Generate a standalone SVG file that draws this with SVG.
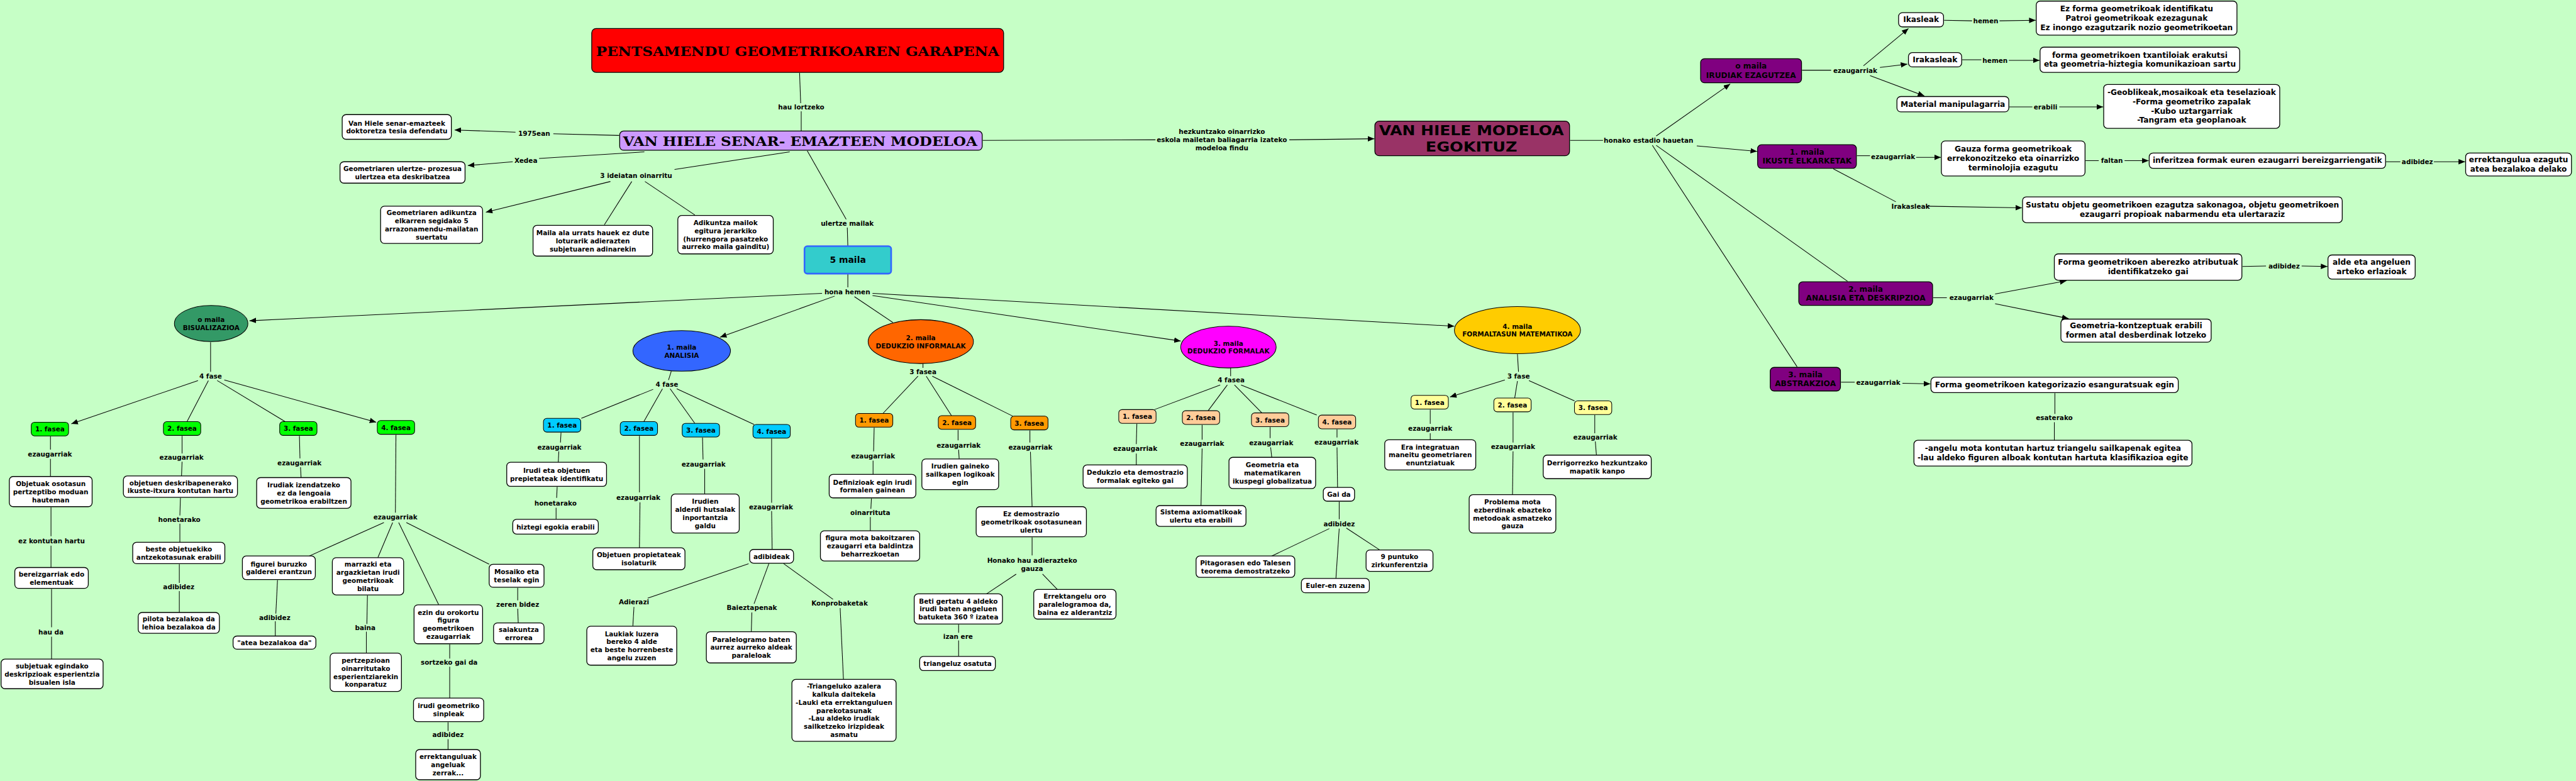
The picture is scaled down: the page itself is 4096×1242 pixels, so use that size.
<svg xmlns="http://www.w3.org/2000/svg" width="4096" height="1242" viewBox="0 0 4096 1242">
<defs>
<style>
.c line{stroke:#000;stroke-width:1.2;fill:none}
.c line.a{marker-end:url(#ah)}
text,tspan{font-family:"DejaVu Sans",Verdana,sans-serif;font-weight:bold;fill:#000;text-anchor:middle;dominant-baseline:central}
.s12{font-size:12px}
.s14{font-size:14px}
.s16{font-size:16px}
.ttl{font-family:"DejaVu Serif","Liberation Serif",serif;font-size:24px;font-weight:bold}
.box{fill:#fff;stroke:#000;stroke-width:1.5}
.pur{fill:#800080;stroke:#000;stroke-width:1.5}
.gr{fill:#00ff00;stroke:#000;stroke-width:1.2}
.cy{fill:#00ccff;stroke:#000;stroke-width:1.2}
.or{fill:#ff9900;stroke:#000;stroke-width:1.2}
.pe{fill:#ffcc99;stroke:#000;stroke-width:1.2}
.ye{fill:#ffff99;stroke:#000;stroke-width:1.2}
.el{stroke:#000;stroke-width:1.2}
</style>
<marker id="ah" markerUnits="userSpaceOnUse" markerWidth="12" markerHeight="10" refX="12" refY="5" orient="auto">
<path d="M0,0 L12,5 L0,10 z" fill="#000"/>
</marker>
</defs>
<rect width="4096" height="1242" fill="#c6ffc6"/>
<g transform="scale(0.872)">
<g id="connectors" class="c">
<line x1="1129" y1="247" x2="1009" y2="244"/><line class="a" x1="940" y1="241" x2="829" y2="237"/>
<line x1="1175" y1="277" x2="983" y2="289"/><line class="a" x1="935" y1="295" x2="853" y2="302"/>
<line x1="1440" y1="277" x2="1230" y2="309"/>
<line class="a" x1="1113" y1="331" x2="886" y2="387"/><line x1="1152" y1="331" x2="1102" y2="410"/><line x1="1176" y1="331" x2="1267" y2="392"/>
<line x1="1458" y1="133" x2="1460" y2="188"/><line x1="1461" y1="203" x2="1461" y2="239"/>
<line x1="1472" y1="275" x2="1543" y2="400"/><line x1="1545" y1="415" x2="1546" y2="449"/>
<line x1="1792" y1="256" x2="2107" y2="255"/><line class="a" x1="2351" y1="255" x2="2506" y2="253"/>
<line x1="2863" y1="256" x2="2923" y2="256"/>
<line class="a" x1="3020" y1="248" x2="3155" y2="153"/><line class="a" x1="3094" y1="266" x2="3204" y2="276"/>
<line x1="3013" y1="265" x2="3277" y2="669"/><line x1="3020" y1="265" x2="3369" y2="513"/>
<line x1="3286" y1="128" x2="3339" y2="128"/>
<line class="a" x1="3398" y1="120" x2="3480" y2="52"/><line class="a" x1="3428" y1="123" x2="3478" y2="117"/><line class="a" x1="3410" y1="138" x2="3509" y2="175"/>
<line x1="3545" y1="37" x2="3596" y2="38"/><line class="a" x1="3646" y1="38" x2="3712" y2="37"/>
<line x1="3578" y1="109" x2="3613" y2="109"/><line class="a" x1="3663" y1="110" x2="3719" y2="110"/>
<line x1="3664" y1="195" x2="3706" y2="195"/><line class="a" x1="3755" y1="195" x2="3835" y2="195"/>
<line x1="3386" y1="284" x2="3410" y2="284"/><line class="a" x1="3494" y1="287" x2="3539" y2="287"/>
<line x1="3803" y1="293" x2="3827" y2="293"/><line class="a" x1="3874" y1="293" x2="3918" y2="293"/>
<line x1="4351" y1="295" x2="4377" y2="295"/><line class="a" x1="4438" y1="295" x2="4495" y2="295"/>
<line x1="3343" y1="308" x2="3457" y2="368"/><line class="a" x1="3512" y1="376" x2="3687" y2="379"/>
<line x1="3525" y1="543" x2="3550" y2="543"/>
<line class="a" x1="3638" y1="536" x2="3768" y2="512"/><line class="a" x1="3638" y1="554" x2="3772" y2="581"/>
<line x1="4089" y1="486" x2="4132" y2="485"/><line class="a" x1="4197" y1="485" x2="4244" y2="486"/>
<line x1="3357" y1="697" x2="3382" y2="697"/><line class="a" x1="3469" y1="699" x2="3520" y2="700"/>
<line x1="3747" y1="717" x2="3747" y2="755"/><line x1="3746" y1="770" x2="3746" y2="803"/>
<line x1="1546" y1="500" x2="1546" y2="524"/>
<line class="a" x1="1499" y1="535" x2="455" y2="585"/>
<line class="a" x1="1522" y1="540" x2="1313" y2="615"/>
<line x1="1558" y1="541" x2="1628" y2="588"/>
<line class="a" x1="1591" y1="539" x2="2153" y2="622"/>
<line class="a" x1="1591" y1="535" x2="2652" y2="595"/>
<line x1="384" y1="624" x2="384" y2="678"/>
<line class="a" x1="361" y1="694" x2="130" y2="773"/><line x1="380" y1="694" x2="341" y2="769"/><line x1="396" y1="694" x2="520" y2="769"/><line class="a" x1="409" y1="693" x2="686" y2="770"/>
<line x1="92" y1="796" x2="92" y2="820"/><line x1="92" y1="837" x2="92" y2="869"/>
<line x1="93" y1="925" x2="93" y2="978"/><line x1="93" y1="995" x2="93" y2="1035"/>
<line x1="94" y1="1074" x2="94" y2="1144"/><line x1="94" y1="1161" x2="94" y2="1202"/>
<line x1="332" y1="795" x2="332" y2="827"/><line x1="332" y1="842" x2="331" y2="868"/>
<line x1="329" y1="908" x2="328" y2="940"/><line x1="328" y1="955" x2="328" y2="989"/>
<line x1="327" y1="1029" x2="327" y2="1063"/><line x1="327" y1="1078" x2="327" y2="1117"/>
<line x1="546" y1="795" x2="547" y2="836"/><line x1="548" y1="852" x2="549" y2="871"/>
<line x1="722" y1="793" x2="721" y2="935"/>
<line x1="700" y1="953" x2="564" y2="1014"/><line x1="716" y1="953" x2="689" y2="1017"/><line x1="727" y1="953" x2="800" y2="1103"/><line x1="741" y1="953" x2="892" y2="1029"/>
<line x1="506" y1="1058" x2="503" y2="1119"/><line x1="502" y1="1133" x2="502" y2="1160"/>
<line x1="670" y1="1086" x2="669" y2="1138"/><line x1="668" y1="1152" x2="668" y2="1191"/>
<line x1="820" y1="1175" x2="820" y2="1201"/><line x1="820" y1="1216" x2="820" y2="1273"/>
<line x1="817" y1="1317" x2="817" y2="1333"/><line x1="817" y1="1348" x2="817" y2="1367"/>
<line x1="944" y1="1072" x2="944" y2="1095"/><line x1="944" y1="1110" x2="945" y2="1136"/>
<line x1="1224" y1="677" x2="1219" y2="693"/>
<line x1="1191" y1="710" x2="1060" y2="763"/><line x1="1208" y1="709" x2="1174" y2="769"/><line x1="1222" y1="709" x2="1267" y2="772"/><line x1="1234" y1="709" x2="1375" y2="774"/>
<line x1="1023" y1="789" x2="1022" y2="807"/><line x1="1019" y1="823" x2="1018" y2="843"/>
<line x1="1016" y1="888" x2="1015" y2="908"/><line x1="1014" y1="926" x2="1014" y2="947"/>
<line x1="1166" y1="795" x2="1166" y2="898"/><line x1="1167" y1="916" x2="1166" y2="999"/>
<line x1="1281" y1="798" x2="1282" y2="838"/><line x1="1285" y1="855" x2="1285" y2="901"/>
<line x1="1407" y1="800" x2="1407" y2="917"/><line x1="1407" y1="932" x2="1408" y2="1002"/>
<line x1="1365" y1="1028" x2="1181" y2="1091"/><line x1="1402" y1="1028" x2="1375" y2="1101"/><line x1="1429" y1="1028" x2="1519" y2="1093"/>
<line x1="1156" y1="1107" x2="1154" y2="1142"/>
<line x1="1371" y1="1117" x2="1370" y2="1152"/>
<line x1="1532" y1="1109" x2="1538" y2="1239"/>
<line x1="1683" y1="663" x2="1683" y2="671"/>
<line x1="1674" y1="686" x2="1610" y2="754"/><line x1="1689" y1="686" x2="1735" y2="758"/><line x1="1700" y1="686" x2="1847" y2="759"/>
<line x1="1594" y1="780" x2="1593" y2="823"/><line x1="1592" y1="840" x2="1592" y2="865"/>
<line x1="1589" y1="909" x2="1588" y2="928"/><line x1="1587" y1="943" x2="1587" y2="968"/>
<line x1="1747" y1="784" x2="1747" y2="803"/><line x1="1748" y1="820" x2="1749" y2="837"/>
<line x1="1878" y1="785" x2="1878" y2="807"/><line x1="1879" y1="824" x2="1882" y2="924"/>
<line x1="1882" y1="980" x2="1882" y2="1013"/>
<line x1="1853" y1="1047" x2="1799" y2="1083"/><line x1="1901" y1="1047" x2="1928" y2="1075"/>
<line x1="1748" y1="1139" x2="1748" y2="1154"/><line x1="1748" y1="1168" x2="1748" y2="1197"/>
<line x1="2244" y1="671" x2="2244" y2="686"/>
<line x1="2225" y1="702" x2="2105" y2="747"/><line x1="2238" y1="702" x2="2203" y2="749"/><line x1="2251" y1="702" x2="2301" y2="753"/><line x1="2263" y1="702" x2="2401" y2="757"/>
<line x1="2073" y1="773" x2="2072" y2="810"/><line x1="2072" y1="827" x2="2072" y2="848"/>
<line x1="2192" y1="775" x2="2192" y2="802"/><line x1="2192" y1="818" x2="2190" y2="922"/>
<line x1="2316" y1="779" x2="2316" y2="799"/><line x1="2317" y1="816" x2="2319" y2="834"/>
<line x1="2438" y1="783" x2="2438" y2="798"/><line x1="2438" y1="816" x2="2439" y2="889"/>
<line x1="2442" y1="915" x2="2442" y2="947"/>
<line x1="2424" y1="964" x2="2319" y2="1014"/><line x1="2442" y1="964" x2="2436" y2="1055"/><line x1="2455" y1="963" x2="2516" y2="1003"/>
<line x1="2767" y1="646" x2="2769" y2="678"/>
<line class="a" x1="2744" y1="693" x2="2644" y2="724"/><line x1="2767" y1="695" x2="2762" y2="726"/><line x1="2788" y1="694" x2="2871" y2="731"/>
<line x1="2608" y1="747" x2="2608" y2="773"/><line x1="2608" y1="790" x2="2608" y2="802"/>
<line x1="2759" y1="752" x2="2759" y2="807"/><line x1="2759" y1="823" x2="2758" y2="902"/>
<line x1="2908" y1="757" x2="2908" y2="790"/><line x1="2909" y1="805" x2="2911" y2="830"/>
<g id="labels" class="s12">
<text x="974" y="243">1975ean</text>
<text x="959" y="292">Xedea</text>
<text x="1160" y="320">3 ideiatan oinarritu</text>
<text x="1461" y="195">hau lortzeko</text>
<text x="1545" y="407">ulertze mailak</text>
<text x="2228" y="240"><tspan x="2228" y="240">hezkuntzako oinarrizko</tspan><tspan x="2228" y="255">eskola mailetan baliagarria izateko</tspan><tspan x="2228" y="269.5">modeloa findu</tspan></text>
<text x="3006" y="256">honako estadio hauetan</text>
<text x="3383" y="128">ezaugarriak</text>
<text x="3621" y="38">hemen</text>
<text x="3638" y="110">hemen</text>
<text x="3730" y="195">erabili</text>
<text x="3452" y="285">ezaugarriak</text>
<text x="3851" y="293">faltan</text>
<text x="4408" y="295">adibidez</text>
<text x="3484" y="376">Irakasleak</text>
<text x="3595" y="543">ezaugarriak</text>
<text x="4165" y="485">adibidez</text>
<text x="3425" y="697">ezaugarriak</text>
<text x="3746" y="762">esaterako</text>
<text x="1545" y="532">hona hemen</text>
<text x="384" y="686">4 fase</text>
<text x="91" y="828">ezaugarriak</text>
<text x="331" y="834">ezaugarriak</text>
<text x="546" y="844">ezaugarriak</text>
<text x="721" y="943">ezaugarriak</text>
<text x="94" y="986">ez kontutan hartu</text>
<text x="93" y="1152">hau da</text>
<text x="327" y="947">honetarako</text>
<text x="326" y="1070">adibidez</text>
<text x="501" y="1126">adibidez</text>
<text x="666" y="1145">baina</text>
<text x="819" y="1208">sortzeko gai da</text>
<text x="817" y="1340">adibidez</text>
<text x="944" y="1102">zeren bidez</text>
<text x="1216" y="701">4 fase</text>
<text x="1020" y="815">ezaugarriak</text>
<text x="1013" y="917">honetarako</text>
<text x="1164" y="907">ezaugarriak</text>
<text x="1283" y="846">ezaugarriak</text>
<text x="1406" y="924">ezaugarriak</text>
<text x="1156" y="1098">Adierazi</text>
<text x="1371" y="1108">Baieztapenak</text>
<text x="1531" y="1100">Konprobaketak</text>
<text x="1683" y="678">3 fasea</text>
<text x="1592" y="831">ezaugarriak</text>
<text x="1748" y="812">ezaugarriak</text>
<text x="1879" y="815">ezaugarriak</text>
<text x="1587" y="935">oinarrituta</text>
<text x="1882" y="1022"><tspan x="1882" y="1022">Honako hau adierazteko</tspan><tspan x="1882" y="1037">gauza</tspan></text>
<text x="1747" y="1161">izan ere</text>
<text x="2245" y="693">4 fasea</text>
<text x="2070" y="818">ezaugarriak</text>
<text x="2192" y="809">ezaugarriak</text>
<text x="2318" y="807">ezaugarriak</text>
<text x="2437" y="806">ezaugarriak</text>
<text x="2442" y="955">adibidez</text>
<text x="2769" y="686">3 fase</text>
<text x="2608" y="781">ezaugarriak</text>
<text x="2759" y="814">ezaugarriak</text>
<text x="2909" y="797">ezaugarriak</text>
</g>
</g>
<g id="n-title"><rect x="1079" y="52" width="751" height="80" rx="8" fill="#ff0000" stroke="#000" stroke-width="1.5"/><text class="ttl" x="1454.5" y="93" textLength="735" lengthAdjust="spacingAndGlyphs">PENTSAMENDU GEOMETRIKOAREN GARAPENA</text></g>
<g id="n-vanhiele"><rect x="1130" y="239" width="661" height="35" rx="7" fill="#cc99ff" stroke="#000" stroke-width="1.5"/><text class="ttl" x="1459" y="258" textLength="646" lengthAdjust="spacingAndGlyphs">VAN HIELE SENAR- EMAZTEEN MODELOA</text></g>
<g id="n-egokituz"><rect x="2507" y="221" width="355" height="63" rx="8" fill="#993366" stroke="#000" stroke-width="1.5"/><text class="ttl"><tspan x="2683" y="239" textLength="337" lengthAdjust="spacingAndGlyphs">VAN HIELE MODELOA</tspan><tspan x="2683" y="268" textLength="167" lengthAdjust="spacingAndGlyphs">EGOKITUZ</tspan></text></g>
<g id="n-tesia" class="s12"><rect class="box" x="624" y="209" width="199" height="45" rx="7"/><text><tspan x="723.5" y="224.2">Van Hiele senar-emazteek</tspan><tspan x="723.5" y="238.9">doktoretza tesia defendatu</tspan></text></g>
<g id="n-xedea" class="s12"><rect class="box" x="620" y="295" width="228" height="39" rx="7"/><text><tspan x="734" y="307.2">Geometriaren ulertze- prozesua</tspan><tspan x="734" y="321.9">ulertzea eta deskribatzea</tspan></text></g>
<g id="n-adikuntza" class="s12"><rect class="box" x="694" y="376" width="186" height="68" rx="7"/><text><tspan x="787" y="388">Geometriaren adikuntza</tspan><tspan x="787" y="402.7">elkarren segidako 5</tspan><tspan x="787" y="417.4">arrazonamendu-mailatan</tspan><tspan x="787" y="432.1">suertatu</tspan></text></g>
<g id="n-maila-ala" class="s12"><rect class="box" x="972" y="411" width="218" height="56" rx="7"/><text><tspan x="1081" y="424.3">Maila ala urrats hauek ez dute</tspan><tspan x="1081" y="439">loturarik adierazten</tspan><tspan x="1081" y="453.7">subjetuaren adinarekin</tspan></text></g>
<g id="n-mailok" class="s12"><rect class="box" x="1236" y="393" width="174" height="70" rx="7"/><text><tspan x="1323" y="406">Adikuntza mailok</tspan><tspan x="1323" y="420.7">egitura jerarkiko</tspan><tspan x="1323" y="435.4">(hurrengora pasatzeko</tspan><tspan x="1323" y="450.1">aurreko maila gainditu)</tspan></text></g>
<g id="n-5maila" class="s16"><rect x="1467" y="449" width="158" height="50" rx="5" fill="#33cccc" stroke="#3366ff" stroke-width="3"/><text x="1546" y="474">5 maila</text></g>
<g id="n-m0" class="s14"><rect class="pur" x="3101" y="107" width="184" height="44" rx="7"/><text><tspan x="3193" y="120.5">o maila</tspan><tspan x="3193" y="137.5">IRUDIAK EZAGUTZEA</tspan></text></g>
<g id="n-m1" class="s14"><rect class="pur" x="3205" y="264" width="180" height="43" rx="7"/><text><tspan x="3295" y="277">1. maila</tspan><tspan x="3295" y="294">IKUSTE ELKARKETAK</tspan></text></g>
<g id="n-m2" class="s14"><rect class="pur" x="3280" y="514" width="244" height="43" rx="7"/><text><tspan x="3402" y="527">2. maila</tspan><tspan x="3402" y="544">ANALISIA ETA DESKRIPZIOA</tspan></text></g>
<g id="n-m3" class="s14"><rect class="pur" x="3228" y="670" width="128" height="43" rx="7"/><text><tspan x="3292" y="683">3. maila</tspan><tspan x="3292" y="700">ABSTRAKZIOA</tspan></text></g>
<g id="n-ikasleak" class="s14"><rect class="box" x="3462" y="23" width="82" height="26" rx="7"/><text x="3503" y="36">Ikasleak</text></g>
<g id="n-irakasleak" class="s14"><rect class="box" x="3480" y="96" width="97" height="26" rx="7"/><text x="3528.5" y="109">Irakasleak</text></g>
<g id="n-material" class="s14"><rect class="box" x="3459" y="176" width="204" height="28" rx="7"/><text x="3561" y="190">Material manipulagarria</text></g>
<g id="n-ezforma" class="s14"><rect class="box" x="3713" y="2" width="366" height="62" rx="7"/><text><tspan x="3896" y="16">Ez forma geometrikoak identifikatu</tspan><tspan x="3896" y="33">Patroi geometrikoak ezezagunak</tspan><tspan x="3896" y="50">Ez inongo ezagutzarik nozio geometrikoetan</tspan></text></g>
<g id="n-txantiloi" class="s14"><rect class="box" x="3720" y="86" width="364" height="46" rx="7"/><text><tspan x="3902" y="100.5">forma geometrikoen txantiloiak erakutsi</tspan><tspan x="3902" y="117.5">eta geometria-hiztegia komunikazioan sartu</tspan></text></g>
<g id="n-geoblikeak" class="s14"><rect class="box" x="3836" y="154" width="321" height="80" rx="7"/><text><tspan x="3996.5" y="168.5">-Geoblikeak,mosaikoak eta teselazioak</tspan><tspan x="3996.5" y="185.5">-Forma geometriko zapalak</tspan><tspan x="3996.5" y="202.5">-Kubo uztargarriak</tspan><tspan x="3996.5" y="219.5">-Tangram eta geoplanoak</tspan></text></g>
<g id="n-gauza" class="s14"><rect class="box" x="3540" y="257" width="262" height="64" rx="7"/><text><tspan x="3671" y="272">Gauza forma geometrikoak</tspan><tspan x="3671" y="289">errekonozitzeko eta oinarrizko</tspan><tspan x="3671" y="306">terminolojia ezagutu</tspan></text></g>
<g id="n-inferitzea" class="s14"><rect class="box" x="3919" y="279" width="431" height="28" rx="7"/><text x="4134.5" y="293">inferitzea formak euren ezaugarri bereizgarriengatik</text></g>
<g id="n-errektangulua" class="s14"><rect class="box" x="4496" y="279" width="193" height="42" rx="7"/><text><tspan x="4592.5" y="291.5">errektangulua ezagutu</tspan><tspan x="4592.5" y="308.5">atea bezalakoa delako</tspan></text></g>
<g id="n-sustatu" class="s14"><rect class="box" x="3688" y="359" width="583" height="47" rx="7"/><text><tspan x="3979.5" y="374">Sustatu objetu geometrikoen ezagutza sakonagoa, objetu geometrikoen</tspan><tspan x="3979.5" y="391">ezaugarri propioak nabarmendu eta ulertaraziz</tspan></text></g>
<g id="n-aberezko" class="s14"><rect class="box" x="3746" y="463" width="342" height="48" rx="7"/><text><tspan x="3917" y="478.5">Forma geometrikoen aberezko atributuak</tspan><tspan x="3917" y="495.5">identifikatzeko gai</tspan></text></g>
<g id="n-alde" class="s14"><rect class="box" x="4245" y="465" width="159" height="44" rx="7"/><text><tspan x="4324.5" y="478.5">alde eta angeluen</tspan><tspan x="4324.5" y="495.5">arteko erlazioak</tspan></text></g>
<g id="n-kontzeptuak" class="s14"><rect class="box" x="3758" y="582" width="274" height="42" rx="7"/><text><tspan x="3895" y="594.5">Geometria-kontzeptuak erabili</tspan><tspan x="3895" y="611.5">formen atal desberdinak lotzeko</tspan></text></g>
<g id="n-kategorizazio" class="s14"><rect class="box" x="3521" y="688" width="451" height="28" rx="7"/><text x="3746.5" y="702">Forma geometrikoen kategorizazio esanguratsuak egin</text></g>
<g id="n-angelu" class="s14"><rect class="box" x="3490" y="803" width="507" height="47" rx="7"/><text><tspan x="3743.5" y="818">-angelu mota kontutan hartuz triangelu sailkapenak egitea</tspan><tspan x="3743.5" y="835">-lau aldeko figuren alboak kontutan hartuta klasifikazioa egite</tspan></text></g>
<g id="n-0maila" class="s12"><ellipse class="el" cx="385" cy="590" rx="67" ry="33" fill="#339966"/><text><tspan x="385" y="582.7">o maila</tspan><tspan x="385" y="597.4">BISUALIZAZIOA</tspan></text></g>
<g id="n-1maila" class="s12"><ellipse class="el" cx="1243" cy="640" rx="89" ry="37" fill="#3366ff"/><text><tspan x="1243" y="632.7">1. maila</tspan><tspan x="1243" y="647.4">ANALISIA</tspan></text></g>
<g id="n-2maila" class="s12"><ellipse class="el" cx="1679" cy="623" rx="96" ry="40" fill="#ff6600"/><text><tspan x="1679" y="615.7">2. maila</tspan><tspan x="1679" y="630.4">DEDUKZIO INFORMALAK</tspan></text></g>
<g id="n-3maila" class="s12"><ellipse class="el" cx="2240" cy="633" rx="87" ry="38" fill="#ff00ff"/><text><tspan x="2240" y="625.7">3. maila</tspan><tspan x="2240" y="640.4">DEDUKZIO FORMALAK</tspan></text></g>
<g id="n-4maila" class="s12"><ellipse class="el" cx="2767" cy="602" rx="115" ry="43" fill="#ffcc00"/><text><tspan x="2767" y="594.7">4. maila</tspan><tspan x="2767" y="609.4">FORMALTASUN MATEMATIKOA</tspan></text></g>
<g id="n-g1" class="s12"><rect class="gr" x="57" y="770" width="68" height="25" rx="6"/><text x="91" y="782.5">1. fasea</text></g>
<g id="n-g2" class="s12"><rect class="gr" x="298" y="769" width="68" height="25" rx="6"/><text x="332" y="781.5">2. fasea</text></g>
<g id="n-g3" class="s12"><rect class="gr" x="510" y="769" width="68" height="25" rx="6"/><text x="544" y="781.5">3. fasea</text></g>
<g id="n-g4" class="s12"><rect class="gr" x="688" y="767" width="68" height="25" rx="6"/><text x="722" y="779.5">4. fasea</text></g>
<g id="n-c1" class="s12"><rect class="cy" x="991" y="763" width="68" height="25" rx="6"/><text x="1025" y="775.5">1. fasea</text></g>
<g id="n-c2" class="s12"><rect class="cy" x="1131" y="769" width="68" height="25" rx="6"/><text x="1165" y="781.5">2. fasea</text></g>
<g id="n-c3" class="s12"><rect class="cy" x="1244" y="772" width="68" height="25" rx="6"/><text x="1278" y="784.5">3. fasea</text></g>
<g id="n-c4" class="s12"><rect class="cy" x="1373" y="774" width="68" height="25" rx="6"/><text x="1407" y="786.5">4. fasea</text></g>
<g id="n-o1" class="s12"><rect class="or" x="1560" y="754" width="68" height="25" rx="6"/><text x="1594" y="766.5">1. fasea</text></g>
<g id="n-o2" class="s12"><rect class="or" x="1711" y="758" width="68" height="25" rx="6"/><text x="1745" y="770.5">2. fasea</text></g>
<g id="n-o3" class="s12"><rect class="or" x="1843" y="759" width="68" height="25" rx="6"/><text x="1877" y="771.5">3. fasea</text></g>
<g id="n-p1" class="s12"><rect class="pe" x="2040" y="747" width="68" height="25" rx="6"/><text x="2074" y="759.5">1. fasea</text></g>
<g id="n-p2" class="s12"><rect class="pe" x="2156" y="749" width="68" height="25" rx="6"/><text x="2190" y="761.5">2. fasea</text></g>
<g id="n-p3" class="s12"><rect class="pe" x="2282" y="753" width="68" height="25" rx="6"/><text x="2316" y="765.5">3. fasea</text></g>
<g id="n-p4" class="s12"><rect class="pe" x="2404" y="757" width="68" height="25" rx="6"/><text x="2438" y="769.5">4. fasea</text></g>
<g id="n-y1" class="s12"><rect class="ye" x="2573" y="721" width="68" height="25" rx="6"/><text x="2607" y="733.5">1. fasea</text></g>
<g id="n-y2" class="s12"><rect class="ye" x="2724" y="726" width="68" height="25" rx="6"/><text x="2758" y="738.5">2. fasea</text></g>
<g id="n-y3" class="s12"><rect class="ye" x="2871" y="731" width="68" height="25" rx="6"/><text x="2905" y="743.5">3. fasea</text></g>
<g id="n-objetuak" class="s12"><rect class="box" x="17" y="869" width="151" height="55" rx="7"/><text><tspan x="92.5" y="881.8">Objetuak osotasun</tspan><tspan x="92.5" y="896.5">pertzeptibo moduan</tspan><tspan x="92.5" y="911.2">hauteman</tspan></text></g>
<g id="n-bereizgarriak" class="s12"><rect class="box" x="27" y="1035" width="134" height="38" rx="7"/><text><tspan x="94" y="1046.7">bereizgarriak edo</tspan><tspan x="94" y="1061.4">elementuak</tspan></text></g>
<g id="n-subjetuak" class="s12"><rect class="box" x="2" y="1202" width="186" height="54" rx="7"/><text><tspan x="95" y="1214.3">subjetuak egindako</tspan><tspan x="95" y="1229">deskripzioak esperientzia</tspan><tspan x="95" y="1243.7">bisualen isla</tspan></text></g>
<g id="n-deskribapen" class="s12"><rect class="box" x="225" y="868" width="208" height="39" rx="7"/><text><tspan x="329" y="880.2">objetuen deskribapenerako</tspan><tspan x="329" y="894.9">ikuste-itxura kontutan hartu</tspan></text></g>
<g id="n-beste" class="s12"><rect class="box" x="242" y="989" width="168" height="39" rx="7"/><text><tspan x="326" y="1001.2">beste objetuekiko</tspan><tspan x="326" y="1015.9">antzekotasunak erabili</tspan></text></g>
<g id="n-pilota" class="s12"><rect class="box" x="252" y="1117" width="148" height="38" rx="7"/><text><tspan x="326" y="1128.7">pilota bezalakoa da</tspan><tspan x="326" y="1143.4">lehioa bezalakoa da</tspan></text></g>
<g id="n-izendatzeko" class="s12"><rect class="box" x="468" y="871" width="172" height="56" rx="7"/><text><tspan x="554" y="884.3">Irudiak izendatzeko</tspan><tspan x="554" y="899">ez da lengoaia</tspan><tspan x="554" y="913.7">geometrikoa erabiltzen</tspan></text></g>
<g id="n-figurei" class="s12"><rect class="box" x="442" y="1014" width="133" height="43" rx="7"/><text><tspan x="508.5" y="1028.2">figurei buruzko</tspan><tspan x="508.5" y="1042.9">galderei erantzun</tspan></text></g>
<g id="n-atea" class="s12"><rect class="box" x="425" y="1160" width="151" height="24" rx="7"/><text x="500.5" y="1172">"atea bezalakoa da"</text></g>
<g id="n-marrazki" class="s12"><rect class="box" x="606" y="1017" width="130" height="68" rx="7"/><text><tspan x="671" y="1029">marrazki eta</tspan><tspan x="671" y="1043.7">argazkietan irudi</tspan><tspan x="671" y="1058.4">geometrikoak</tspan><tspan x="671" y="1073.1">bilatu</tspan></text></g>
<g id="n-pertzepzioan" class="s12"><rect class="box" x="602" y="1191" width="130" height="70" rx="7"/><text><tspan x="667" y="1204">pertzepzioan</tspan><tspan x="667" y="1218.7">oinarritutako</tspan><tspan x="667" y="1233.4">esperientziarekin</tspan><tspan x="667" y="1248.1">konparatuz</tspan></text></g>
<g id="n-ezindu" class="s12"><rect class="box" x="755" y="1103" width="125" height="71" rx="7"/><text><tspan x="817.5" y="1116.5">ezin du orokortu</tspan><tspan x="817.5" y="1131.2">figura</tspan><tspan x="817.5" y="1145.9">geometrikoen</tspan><tspan x="817.5" y="1160.6">ezaugarriak</tspan></text></g>
<g id="n-sinpleak" class="s12"><rect class="box" x="754" y="1273" width="128" height="43" rx="7"/><text><tspan x="818" y="1287.2">irudi geometriko</tspan><tspan x="818" y="1301.9">sinpleak</tspan></text></g>
<g id="n-zerrak" class="s12"><rect class="box" x="758" y="1367" width="118" height="55" rx="7"/><text><tspan x="817" y="1379.8">errektanguluak</tspan><tspan x="817" y="1394.5">angeluak</tspan><tspan x="817" y="1409.2">zerrak...</tspan></text></g>
<g id="n-mosaiko" class="s12"><rect class="box" x="892" y="1029" width="100" height="42" rx="7"/><text><tspan x="942" y="1042.7">Mosaiko eta</tspan><tspan x="942" y="1057.4">teselak egin</tspan></text></g>
<g id="n-saiakuntza" class="s12"><rect class="box" x="900" y="1136" width="92" height="38" rx="7"/><text><tspan x="946" y="1147.7">saiakuntza</tspan><tspan x="946" y="1162.4">errorea</tspan></text></g>
<g id="n-irudieta" class="s12"><rect class="box" x="924" y="843" width="182" height="44" rx="7"/><text><tspan x="1015" y="857.7">Irudi eta objetuen</tspan><tspan x="1015" y="872.4">prepietateak identifikatu</tspan></text></g>
<g id="n-hiztegi" class="s12"><rect class="box" x="935" y="947" width="156" height="27" rx="7"/><text x="1013" y="960.5">hiztegi egokia erabili</text></g>
<g id="n-isolaturik" class="s12"><rect class="box" x="1081" y="999" width="168" height="40" rx="7"/><text><tspan x="1165" y="1011.7">Objetuen propietateak</tspan><tspan x="1165" y="1026.4">isolaturik</tspan></text></g>
<g id="n-laukiak" class="s12"><rect class="box" x="1070" y="1142" width="164" height="71" rx="7"/><text><tspan x="1152" y="1155.5">Laukiak luzera</tspan><tspan x="1152" y="1170.2">bereko 4 alde</tspan><tspan x="1152" y="1184.9">eta beste horrenbeste</tspan><tspan x="1152" y="1199.6">angelu zuzen</tspan></text></g>
<g id="n-hutsalak" class="s12"><rect class="box" x="1224" y="901" width="124" height="71" rx="7"/><text><tspan x="1286" y="914.5">Irudien</tspan><tspan x="1286" y="929.2">alderdi hutsalak</tspan><tspan x="1286" y="943.9">inportantzia</tspan><tspan x="1286" y="958.6">galdu</tspan></text></g>
<g id="n-adibideak" class="s12"><rect class="box" x="1367" y="1002" width="80" height="25" rx="7"/><text x="1407" y="1014.5">adibideak</text></g>
<g id="n-paralelogramo" class="s12"><rect class="box" x="1288" y="1152" width="164" height="57" rx="7"/><text><tspan x="1370" y="1165.8">Paralelogramo baten</tspan><tspan x="1370" y="1180.5">aurrez aurreko aldeak</tspan><tspan x="1370" y="1195.2">paraleloak</tspan></text></g>
<g id="n-triangeluko" class="s12"><rect class="box" x="1444" y="1239" width="190" height="113" rx="7"/><text><tspan x="1539" y="1251.4">-Triangeluko azalera</tspan><tspan x="1539" y="1266.1">kalkula daitekela</tspan><tspan x="1539" y="1280.8">-Lauki eta errektanguluen</tspan><tspan x="1539" y="1295.5">parekotasunak</tspan><tspan x="1539" y="1310.2">-Lau aldeko irudiak</tspan><tspan x="1539" y="1324.9">sailketzeko irizpideak</tspan><tspan x="1539" y="1339.6">asmatu</tspan></text></g>
<g id="n-definizioak" class="s12"><rect class="box" x="1512" y="865" width="158" height="43" rx="7"/><text><tspan x="1591" y="879.2">Definizioak egin irudi</tspan><tspan x="1591" y="893.9">formalen gainean</tspan></text></g>
<g id="n-figuramota" class="s12"><rect class="box" x="1496" y="968" width="181" height="55" rx="7"/><text><tspan x="1586.5" y="980.8">figura mota bakoitzaren</tspan><tspan x="1586.5" y="995.5">ezaugarri eta baldintza</tspan><tspan x="1586.5" y="1010.2">beharrezkoetan</tspan></text></g>
<g id="n-gaineko" class="s12"><rect class="box" x="1681" y="837" width="140" height="56" rx="7"/><text><tspan x="1751" y="850.3">Irudien gaineko</tspan><tspan x="1751" y="865">sailkapen logikoak</tspan><tspan x="1751" y="879.7">egin</tspan></text></g>
<g id="n-ezdemostrazio" class="s12"><rect class="box" x="1780" y="924" width="201" height="55" rx="7"/><text><tspan x="1880.5" y="936.8">Ez demostrazio</tspan><tspan x="1880.5" y="951.5">geometrikoak osotasunean</tspan><tspan x="1880.5" y="966.2">ulertu</tspan></text></g>
<g id="n-beti" class="s12"><rect class="box" x="1667" y="1083" width="161" height="55" rx="7"/><text><tspan x="1747.5" y="1095.8">Beti gertatu 4 aldeko</tspan><tspan x="1747.5" y="1110.5">irudi baten angeluen</tspan><tspan x="1747.5" y="1125.2">batuketa 360 º izatea</tspan></text></g>
<g id="n-errektangelu" class="s12"><rect class="box" x="1885" y="1075" width="150" height="54" rx="7"/><text><tspan x="1960" y="1087.3">Errektangelu oro</tspan><tspan x="1960" y="1102">paralelogramoa da,</tspan><tspan x="1960" y="1116.7">baina ez alderantziz</tspan></text></g>
<g id="n-triangeluz" class="s12"><rect class="box" x="1677" y="1197" width="138" height="26" rx="7"/><text x="1746" y="1210">triangeluz osatuta</text></g>
<g id="n-dedukzio" class="s12"><rect class="box" x="1975" y="848" width="190" height="42" rx="7"/><text><tspan x="2070" y="861.7">Dedukzio eta demostrazio</tspan><tspan x="2070" y="876.4">formalak egiteko gai</tspan></text></g>
<g id="n-sistema" class="s12"><rect class="box" x="2108" y="922" width="164" height="38" rx="7"/><text><tspan x="2190" y="933.7">Sistema axiomatikoak</tspan><tspan x="2190" y="948.4">ulertu eta erabili</tspan></text></g>
<g id="n-ikuspegi" class="s12"><rect class="box" x="2241" y="834" width="158" height="57" rx="7"/><text><tspan x="2320" y="847.8">Geometria eta</tspan><tspan x="2320" y="862.5">matematikaren</tspan><tspan x="2320" y="877.2">ikuspegi globalizatua</tspan></text></g>
<g id="n-pitagoras" class="s12"><rect class="box" x="2181" y="1014" width="180" height="39" rx="7"/><text><tspan x="2271" y="1026.2">Pitagorasen edo Talesen</tspan><tspan x="2271" y="1040.9">teorema demostratzeko</tspan></text></g>
<g id="n-gaida" class="s12"><rect class="box" x="2413" y="889" width="57" height="25" rx="7"/><text x="2441.5" y="901.5">Gai da</text></g>
<g id="n-euler" class="s12"><rect class="box" x="2373" y="1055" width="124" height="26" rx="7"/><text x="2435" y="1068">Euler-en zuzena</text></g>
<g id="n-9puntuko" class="s12"><rect class="box" x="2491" y="1003" width="122" height="39" rx="7"/><text><tspan x="2552" y="1015.2">9 puntuko</tspan><tspan x="2552" y="1029.9">zirkunferentzia</tspan></text></g>
<g id="n-integratuan" class="s12"><rect class="box" x="2525" y="802" width="166" height="55" rx="7"/><text><tspan x="2608" y="814.8">Era integratuan</tspan><tspan x="2608" y="829.5">maneitu geometriaren</tspan><tspan x="2608" y="844.2">enuntziatuak</tspan></text></g>
<g id="n-problema" class="s12"><rect class="box" x="2679" y="902" width="158" height="70" rx="7"/><text><tspan x="2758" y="915">Problema mota</tspan><tspan x="2758" y="929.7">ezberdinak ebazteko</tspan><tspan x="2758" y="944.4">metodoak asmatzeko</tspan><tspan x="2758" y="959.1">gauza</tspan></text></g>
<g id="n-derrigorrezko" class="s12"><rect class="box" x="2814" y="830" width="197" height="43" rx="7"/><text><tspan x="2912.5" y="844.2">Derrigorrezko hezkuntzako</tspan><tspan x="2912.5" y="858.9">mapatik kanpo</tspan></text></g>
</g>
</svg>
